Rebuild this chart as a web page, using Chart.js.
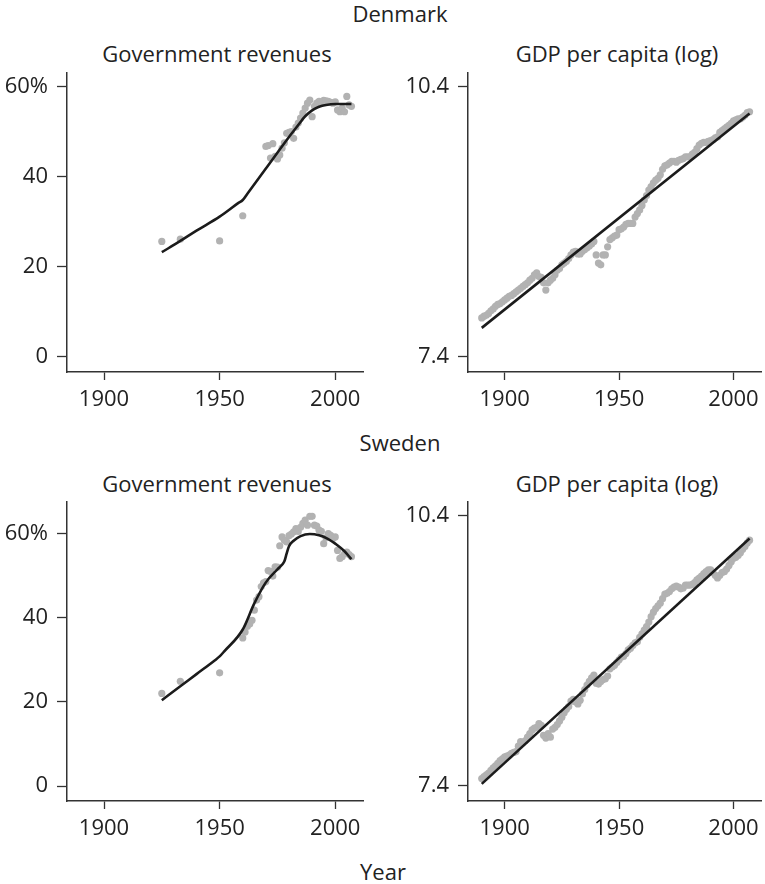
<!DOCTYPE html>
<html>
<head>
<meta charset="utf-8">
<script src="https://cdn.jsdelivr.net/npm/chart.js@4.4.0/dist/chart.umd.min.js"></script>
<style>
  html, body { margin: 0; padding: 0; background: #fff; }
  body { width: 765px; height: 884px; position: relative; overflow: hidden; font-family: "Open Sans", sans-serif; color: #222; }
  .lbl { position: absolute; font-size: 22px; line-height: 22px; white-space: nowrap; transform: translateX(-50%); }
  .panel { position: absolute; width: 375px; height: 367px; }
</style>
</head>
<body>
<div class="lbl" style="left:400px; top:2px">Denmark</div>
<div class="lbl" style="left:217px; top:42px">Government revenues</div>
<div class="lbl" style="left:617px; top:42px">GDP per capita (log)</div>
<div class="lbl" style="left:400px; top:431px">Sweden</div>
<div class="lbl" style="left:217px; top:472px">Government revenues</div>
<div class="lbl" style="left:617px; top:472px">GDP per capita (log)</div>
<div class="lbl" style="left:383px; top:860px">Year</div>

<canvas id="dkRev" class="panel" width="375" height="367" style="left:0; top:63px"></canvas>
<canvas id="dkGdp" class="panel" width="375" height="367" style="left:390px; top:63px"></canvas>
<canvas id="seRev" class="panel" width="375" height="367" style="left:0; top:492px"></canvas>
<canvas id="seGdp" class="panel" width="375" height="367" style="left:390px; top:492px"></canvas>

<script>
// x axis
const xTicks = [1900, 1950, 2000];
const revTicks = [0, 20, 40, 60];
const gdpTicks = [7.4, 10.4];

// Denmark, government revenues (% of GDP)
const dkRevYears = [1925, 1933, 1950, 1960,
  1970, 1971, 1972, 1973, 1974, 1975, 1976, 1977, 1978, 1979,
  1980, 1981, 1982, 1983, 1984, 1985, 1986, 1987, 1988, 1989,
  1990, 1991, 1992, 1993, 1994, 1995, 1996, 1997, 1998, 1999,
  2000, 2001, 2002, 2003, 2004, 2005, 2006, 2007];
const dkRevVals = [25.6, 26.1, 25.7, 31.3,
  46.7, 46.9, 44.1, 47.3, 44.5, 43.9, 44.8, 46.3, 47.5, 49.6,
  49.8, 50.0, 48.5, 51.0, 51.9, 53.0, 54.1, 55.2, 56.3, 57.0,
  53.3, 55.6, 56.3, 56.7, 56.5, 56.9, 56.8, 56.7, 56.5, 56.3,
  56.6, 54.8, 54.4, 55.2, 54.4, 57.8, 55.9, 55.6];
const dkRevFitYears = [1925, 1933, 1940, 1950, 1958, 1960, 1962, 1970, 1980, 1985, 1986, 1987, 1990, 1993, 1996, 2000, 2007];
const dkRevFitVals = [23.2, 25.7, 28.0, 31.1, 34.1, 34.8, 36.2, 41.8, 48.8, 52.1, 52.8, 53.4, 54.7, 55.5, 55.9, 56.1, 56.1];

// Sweden, government revenues (% of GDP)
const seRevYears = [1925, 1933, 1950,
  1960, 1961, 1962, 1963, 1964, 1965, 1966, 1967, 1968, 1969,
  1970, 1971, 1972, 1973, 1974, 1975, 1976, 1977, 1978, 1979,
  1980, 1981, 1982, 1983, 1984, 1985, 1986, 1987, 1988, 1989,
  1990, 1991, 1992, 1993, 1994, 1995, 1996, 1997, 1998, 1999,
  2000, 2001, 2002, 2003, 2004, 2005, 2006, 2007];
const seRevVals = [22.0, 24.9, 26.9,
  35.2, 36.6, 38.0, 38.5, 39.4, 41.8, 44.2, 45.0, 47.4, 48.3,
  48.6, 51.2, 51.0, 49.9, 52.1, 52.0, 57.1, 59.2, 58.4, 58.0,
  59.5, 59.9, 60.4, 61.2, 60.5, 61.5, 62.4, 63.2, 62.0, 64.1,
  64.1, 62.0, 61.8, 60.8, 60.5, 57.6, 59.0, 60.0, 59.6, 58.8,
  59.2, 56.0, 54.1, 54.5, 55.2, 55.6, 55.0, 54.5];
const seRevFitYears = [1925, 1933, 1940, 1948, 1950, 1952, 1960, 1965, 1970, 1975, 1977, 1978, 1979, 1980, 1982, 1985, 1989, 1993, 1997, 2000, 2004, 2007];
const seRevFitVals = [20.4, 23.7, 26.6, 29.9, 30.8, 32.0, 37.2, 43.4, 48.4, 51.5, 52.6, 53.4, 55.3, 57.0, 58.3, 59.4, 59.9, 59.6, 58.7, 57.6, 55.8, 53.9];

// GDP per capita (log), yearly from 1890 to 2007
const gdpYears = Array.from({ length: 118 }, (_, i) => 1890 + i);
const dkGdpVals = [
  7.83, 7.85, 7.86, 7.88, 7.91, 7.93, 7.96, 7.98, 7.99, 8.01,
  8.03, 8.05, 8.07, 8.08, 8.10, 8.12, 8.14, 8.16, 8.18, 8.20,
  8.22, 8.25, 8.27, 8.31, 8.33, 8.29, 8.28, 8.22, 8.14, 8.22,
  8.25, 8.27, 8.31, 8.36, 8.38, 8.42, 8.44, 8.46, 8.49, 8.53,
  8.56, 8.57, 8.54, 8.54, 8.57, 8.59, 8.61, 8.63, 8.65, 8.68,
  8.53, 8.44, 8.42, 8.53, 8.53, 8.62, 8.70, 8.72, 8.74, 8.75,
  8.81, 8.82, 8.84, 8.87, 8.88, 8.88, 8.88, 8.95, 8.99, 9.03,
  9.08, 9.14, 9.19, 9.25, 9.29, 9.33, 9.36, 9.38, 9.42, 9.48,
  9.52, 9.53, 9.55, 9.57, 9.57, 9.56, 9.58, 9.59, 9.60, 9.62,
  9.62, 9.62, 9.65, 9.67, 9.71, 9.75, 9.77, 9.78, 9.78, 9.79,
  9.80, 9.81, 9.83, 9.84, 9.89, 9.91, 9.93, 9.95, 9.97, 9.99,
  10.02, 10.03, 10.04, 10.04, 10.06, 10.08, 10.11, 10.12];
const seGdpVals = [
  7.48, 7.50, 7.52, 7.54, 7.57, 7.60, 7.62, 7.65, 7.68, 7.70,
  7.72, 7.73, 7.74, 7.76, 7.77, 7.78, 7.84, 7.89, 7.88, 7.90,
  7.94, 7.98, 8.02, 8.04, 8.05, 8.09, 8.07, 7.96, 7.93, 7.98,
  7.94, 8.03, 8.05, 8.08, 8.12, 8.16, 8.21, 8.25, 8.28, 8.34,
  8.36, 8.33, 8.31, 8.35, 8.42, 8.47, 8.52, 8.56, 8.60, 8.63,
  8.54, 8.53, 8.56, 8.58, 8.59, 8.62, 8.70, 8.72, 8.74, 8.77,
  8.80, 8.83, 8.84, 8.87, 8.91, 8.93, 8.96, 8.99, 9.00, 9.05,
  9.09, 9.13, 9.17, 9.22, 9.28, 9.33, 9.37, 9.40, 9.43, 9.48,
  9.53, 9.54, 9.56, 9.59, 9.61, 9.62, 9.61, 9.59, 9.60, 9.63,
  9.63, 9.63, 9.64, 9.66, 9.69, 9.71, 9.73, 9.76, 9.78, 9.80,
  9.80, 9.77, 9.74, 9.71, 9.74, 9.77, 9.78, 9.81, 9.85, 9.89,
  9.93, 9.94, 9.96, 9.99, 10.03, 10.06, 10.10, 10.13];
const dkGdpFitYears = [1890, 2007];
const dkGdpFitVals = [7.72, 10.10];
const seGdpFitYears = [1890, 2007];
const seGdpFitVals = [7.42, 10.15];

const pts = (xs, ys) => xs.map((x, i) => ({ x, y: ys[i] }));
const tickFont = { family: "Open Sans", size: 22 };
const axisColor = "#333";

// keep tick labels from pushing the plot area around
const noScalePadding = (s) => {
  s.paddingTop = 0; s.paddingBottom = 0; s.paddingLeft = 0; s.paddingRight = 0;
};

function buildPanel(id, o) {
  return new Chart(document.getElementById(id), {
    type: "scatter",
    data: {
      datasets: [
        // fitted line first so it is drawn on top
        {
          data: o.fit,
          showLine: true,
          borderColor: "#1b1b1b",
          borderWidth: 2.6,
          pointRadius: 0,
          cubicInterpolationMode: "monotone",
        },
        {
          data: o.points,
          backgroundColor: "#b2b2b2",
          borderWidth: 0,
          pointRadius: 3.6,
        },
      ],
    },
    options: {
      responsive: false,
      animation: false,
      events: [],
      layout: { padding: { top: 10, right: o.padRight, left: 0, bottom: 0 } },
      plugins: { legend: { display: false }, tooltip: { enabled: false } },
      scales: {
        x: {
          type: "linear",
          min: 1884,
          max: 2012,
          afterBuildTicks: (s) => { s.ticks = xTicks.map((v) => ({ value: v })); },
          afterFit: (s) => { s.height = 58; noScalePadding(s); },
          ticks: { color: "#222", font: tickFont, padding: 7, maxRotation: 0, callback: (v) => String(v) },
          grid: { drawOnChartArea: false, drawTicks: true, tickLength: 8, tickColor: axisColor, tickWidth: 1.3 },
          border: { display: true, color: axisColor, width: 1.5 },
        },
        y: {
          type: "linear",
          min: o.yMin,
          max: o.yMax,
          afterBuildTicks: (s) => { s.ticks = o.yTicks.map((v) => ({ value: v })); },
          afterFit: (s) => { s.width = o.yWidth; noScalePadding(s); },
          ticks: { color: "#222", font: tickFont, padding: 9, callback: o.yLabel },
          grid: { drawOnChartArea: false, drawTicks: true, tickLength: 10, tickColor: axisColor, tickWidth: 1.3 },
          border: { display: true, color: axisColor, width: 1.5 },
        },
      },
    },
  });
}

const revLabel = (v) => (v === 60 ? "60%" : String(v));
const gdpLabel = (v) => v.toFixed(1);

buildPanel("dkRev", {
  points: pts(dkRevYears, dkRevVals), fit: pts(dkRevFitYears, dkRevFitVals),
  yMin: -3.4, yMax: 63.0, yTicks: revTicks, yLabel: revLabel, yWidth: 67, padRight: 12,
});
buildPanel("dkGdp", {
  points: pts(gdpYears, dkGdpVals), fit: pts(dkGdpFitYears, dkGdpFitVals),
  yMin: 7.23, yMax: 10.55, yTicks: gdpTicks, yLabel: gdpLabel, yWidth: 78, padRight: 0,
});
buildPanel("seRev", {
  points: pts(seRevYears, seRevVals), fit: pts(seRevFitYears, seRevFitVals),
  yMin: -3.56, yMax: 67.5, yTicks: revTicks, yLabel: revLabel, yWidth: 67, padRight: 12,
});
buildPanel("seGdp", {
  points: pts(gdpYears, seGdpVals), fit: pts(seGdpFitYears, seGdpFitVals),
  yMin: 7.23, yMax: 10.555, yTicks: gdpTicks, yLabel: gdpLabel, yWidth: 78, padRight: 0,
});
</script>
</body>
</html>
